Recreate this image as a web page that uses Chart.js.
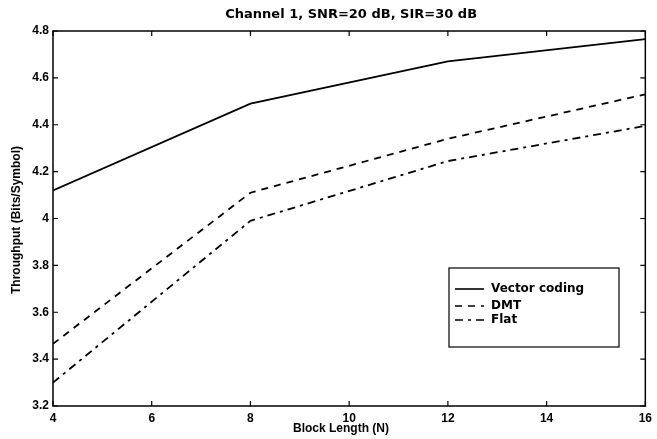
<!DOCTYPE html>
<html lang="en">
<head>
  <meta charset="UTF-8" />
  <title>Channel 1 throughput</title>
  <script src="https://cdn.jsdelivr.net/npm/chart.js"></script>
  <style>
    html, body { margin: 0; padding: 0; background: #fff; }
    #wrap { width: 657px; height: 439px; }
  </style>
</head>
<body>
  <div id="wrap"><canvas id="plot" width="657" height="439"></canvas></div>

  <script>
    // block lengths N and throughput values (bits/symbol)
    const blockLength = [4, 8, 12, 16];
    const vectorCoding = [4.12, 4.49, 4.67, 4.765];
    const dmt = [3.465, 4.11, 4.34, 4.53];
    const flat = [3.30, 3.99, 4.245, 4.395];

    const xTicks = [4, 6, 8, 10, 12, 14, 16];
    const yTicks = [3.2, 3.4, 3.6, 3.8, 4, 4.2, 4.4, 4.6, 4.8];

    const titleText = 'Channel 1, SNR=20 dB, SIR=30 dB';
    const xLabel = 'Block Length (N)';
    const yLabel = 'Throughput (Bits/Symbol)';

    const ARIAL = 'Liberation Sans, Arial, sans-serif';
    const WIDE = 'DejaVu Sans, Verdana, sans-serif';

    function pts(ys) {
      return blockLength.map((x, i) => ({ x: x, y: ys[i] }));
    }

    // box, inward ticks on all four sides, titles and the legend inside the plot
    const matlabFrame = {
      id: 'matlabFrame',
      afterDatasetsDraw(chart) {
        const { ctx, chartArea: a, scales } = chart;
        ctx.save();
        ctx.strokeStyle = '#000';
        ctx.lineWidth = 1.5;
        ctx.strokeRect(a.left, a.top, a.right - a.left, a.bottom - a.top);

        ctx.lineWidth = 1.2;
        const t = 5;
        ctx.beginPath();
        xTicks.forEach(v => {
          const px = scales.x.getPixelForValue(v);
          ctx.moveTo(px, a.bottom); ctx.lineTo(px, a.bottom - t);
          ctx.moveTo(px, a.top); ctx.lineTo(px, a.top + t);
        });
        yTicks.forEach(v => {
          const py = scales.y.getPixelForValue(v);
          ctx.moveTo(a.left, py); ctx.lineTo(a.left + t, py);
          ctx.moveTo(a.right, py); ctx.lineTo(a.right - t, py);
        });
        ctx.stroke();

        // titles
        ctx.fillStyle = '#000';
        ctx.textAlign = 'center';
        ctx.textBaseline = 'middle';
        ctx.font = 'bold 13px ' + WIDE;
        ctx.fillText(titleText, (a.left + a.right) / 2 + 2, 15);
        ctx.font = 'bold 12px ' + ARIAL;
        ctx.fillText(xLabel, 341, 429);
        ctx.save();
        ctx.translate(17, 220);
        ctx.rotate(-Math.PI / 2);
        ctx.font = 'bold 12px ' + ARIAL;
        ctx.fillText(yLabel, 0, 0);
        ctx.restore();

        // legend box
        const lx = 449, ly = 268, lw = 170, lh = 79;
        ctx.fillStyle = '#fff';
        ctx.fillRect(lx, ly, lw, lh);
        ctx.lineWidth = 1.2;
        ctx.strokeRect(lx, ly, lw, lh);
        const rows = [289, 306, 320];
        ctx.font = 'bold 12px ' + WIDE;
        ctx.textBaseline = 'middle';
        ctx.textAlign = 'left';
        chart.data.datasets.forEach((ds, i) => {
          ctx.beginPath();
          ctx.setLineDash(ds.borderDash || []);
          ctx.lineWidth = 1.6;
          ctx.moveTo(455, rows[i]);
          ctx.lineTo(484, rows[i]);
          ctx.stroke();
          ctx.setLineDash([]);
          ctx.fillStyle = '#000';
          ctx.fillText(ds.label, 491, rows[i]);
        });
        ctx.restore();
      }
    };

    new Chart(document.getElementById('plot'), {
      type: 'line',
      data: {
        datasets: [
          { label: 'Vector coding', data: pts(vectorCoding), borderColor: '#000', borderWidth: 1.8 },
          { label: 'DMT', data: pts(dmt), borderColor: '#000', borderWidth: 1.8, borderDash: [7, 6] },
          { label: 'Flat', data: pts(flat), borderColor: '#000', borderWidth: 1.8, borderDash: [8, 5, 3, 5] }
        ]
      },
      options: {
        responsive: false,
        animation: false,
        events: [],
        elements: { point: { radius: 0 }, line: { tension: 0 } },
        layout: { padding: { top: 31, right: 10, left: 0, bottom: 0 } },
        plugins: {
          legend: { display: false },
          tooltip: { enabled: false },
          title: { display: false }
        },
        scales: {
          x: {
            type: 'linear',
            min: 4, max: 16,
            afterBuildTicks: s => { s.ticks = xTicks.map(v => ({ value: v })); },
            afterFit: s => { s.height = 33; },
            grid: { display: false, drawTicks: false },
            border: { display: false },
            ticks: { color: '#000', font: { family: ARIAL, size: 12, weight: 'bold' }, padding: 5 }
          },
          y: {
            min: 3.2, max: 4.8,
            afterBuildTicks: s => { s.ticks = yTicks.map(v => ({ value: v })); },
            afterFit: s => { s.width = 53; },
            grid: { display: false, drawTicks: false },
            border: { display: false },
            ticks: {
              color: '#000', font: { family: ARIAL, size: 12, weight: 'bold' }, padding: 4,
              callback: v => String(Math.round(v * 10) / 10)
            }
          }
        }
      },
      plugins: [matlabFrame]
    });
  </script>
</body>
</html>
